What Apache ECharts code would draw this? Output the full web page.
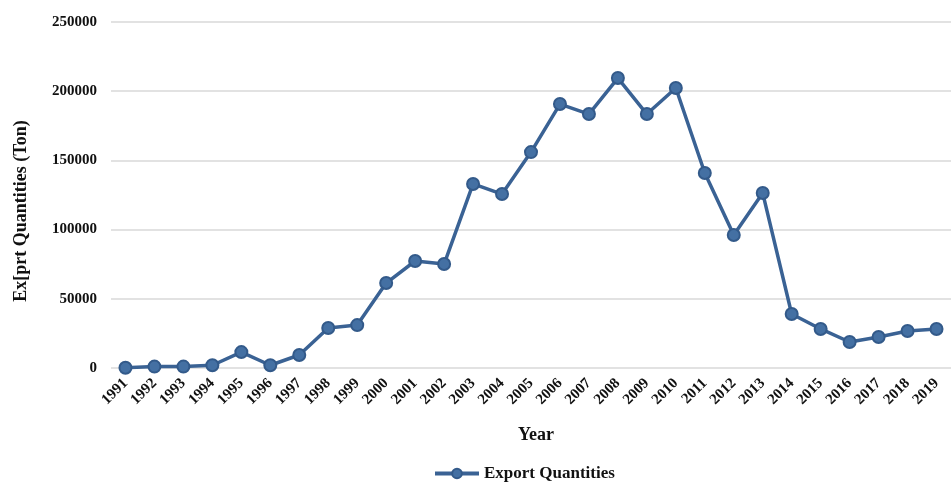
<!DOCTYPE html>
<html>
<head>
<meta charset="utf-8">
<script src="https://cdn.jsdelivr.net/npm/echarts@6/dist/echarts.min.js"></script>
<style>
  html, body { margin: 0; padding: 0; background: #fff; }
  #chart { width: 951px; height: 482px; }
</style>
</head>
<body>
<div id="chart"></div>
<script>
// 年份与出口量（吨）
const years = ['1991', '1992', '1993', '1994', '1995', '1996', '1997', '1998', '1999', '2000',
  '2001', '2002', '2003', '2004', '2005', '2006', '2007', '2008', '2009', '2010',
  '2011', '2012', '2013', '2014', '2015', '2016', '2017', '2018', '2019']
const exportQuantities = [200, 1000, 1000, 2000, 11500, 2000, 9400, 28900, 31000, 61400,
  77300, 75100, 133000, 125700, 156000, 190700, 183500, 209500, 183500, 202300,
  140900, 96100, 126400, 39000, 28200, 18800, 22400, 26700, 28200]
const yTicks = [0, 50000, 100000, 150000, 200000, 250000]

const font = '"Liberation Serif", "DejaVu Serif", serif'
const blue = '#3a6294'

const myChart = echarts.init(document.getElementById('chart'))
const option = {
  backgroundColor: '#fff',
  textStyle: { fontFamily: font },
  grid: { left: 111, top: 22, bottom: 114, right: -10 },
  legend: {
    left: 433,
    top: 465,
    padding: 0,
    itemWidth: 44,
    itemHeight: 12,
    itemGap: 4,
    lineStyle: { width: 4 },
    textStyle: { fontFamily: font, fontWeight: 'bold', fontSize: 17, color: '#111' },
    data: ['Export Quantities']
  },
  xAxis: {
    type: 'category',
    data: years,
    name: 'Year',
    nameLocation: 'middle',
    nameGap: 58,
    nameTextStyle: { fontFamily: font, fontWeight: 'bold', fontSize: 18, color: '#111', padding: [0, 0, 0, 10] },
    axisLine: { show: false },
    axisTick: { show: false },
    axisLabel: {
      rotate: 45,
      margin: 13,
      fontFamily: font,
      fontWeight: 'bold',
      fontSize: 15,
      color: '#111'
    }
  },
  yAxis: {
    type: 'value',
    min: yTicks[0],
    max: yTicks[yTicks.length - 1],
    interval: 50000,
    name: 'Ex[prt Quantities (Ton)',
    nameLocation: 'middle',
    nameGap: 81,
    nameTextStyle: {
      fontFamily: font, fontWeight: 'bold', fontSize: 18, color: '#111',
      padding: [0, 32, 0, 0]
    },
    axisLine: { show: false },
    axisTick: { show: false },
    axisLabel: {
      margin: 14,
      fontFamily: font,
      fontWeight: 'bold',
      fontSize: 15,
      color: '#111',
      formatter: v => String(v)
    },
    splitLine: { lineStyle: { color: '#d9d9d9', width: 1.5 } }
  },
  series: [{
    name: 'Export Quantities',
    type: 'line',
    data: exportQuantities,
    symbol: 'circle',
    symbolSize: 12,
    lineStyle: { color: blue, width: 3.5 },
    itemStyle: { color: '#4470a3', borderColor: '#335a8a', borderWidth: 2 }
  }]
}
myChart.setOption(option)
</script>
</body>
</html>
